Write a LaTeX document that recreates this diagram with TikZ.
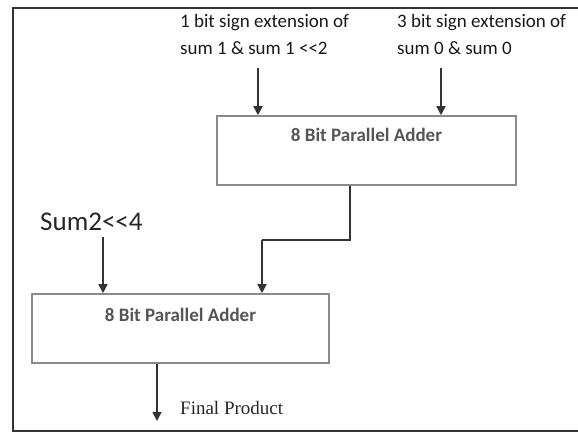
\documentclass[tikz,border=0pt]{standalone}
\usepackage{fontspec}
\setmainfont{Carlito}
\newfontfamily\serifface{Liberation Serif}
\usetikzlibrary{arrows.meta}
\definecolor{boxgray}{HTML}{8A8A8A}
\definecolor{arrgray}{HTML}{333333}
\definecolor{txtgray}{HTML}{555555}
\newcommand{\shl}{<\kern0pt<}
\begin{document}
\begin{tikzpicture}[x=1pt,y=-1pt,
  adder/.style={draw=boxgray,line width=1.6pt,rectangle,inner sep=0pt,
     font=\fontsize{19}{22}\selectfont\bfseries,text=txtgray},
  arr/.style={draw=arrgray,line width=1.6pt,-{Triangle[width=9pt,length=9pt]}},
  wire/.style={draw=arrgray,line width=1.6pt},
  toplbl/.style={anchor=base west,inner sep=0pt,align=left,
     font=\fontsize{19}{27}\selectfont,text=black!90}]
\useasboundingbox (0,0) rectangle (578,432);
% outer frame
\draw[draw=arrgray,line width=2pt] (580,8) -- (13,8) -- (13,431) -- (580,431);
% adders
\node[adder,minimum width=299pt,minimum height=69pt,text height=25pt,text depth=44pt]
  (a1) at (366.5,150.5) {8 Bit Parallel Adder};
\node[adder,minimum width=297pt,minimum height=69pt,text height=27pt,text depth=42pt]
  (a2) at (180.5,328.5) {8 Bit Parallel Adder};
% labels
\node[toplbl] (l1) at (180,54) {1 bit sign extension of\\sum 1 \& sum 1 \shl2};
\node[toplbl] (l2) at (397,54) {3 bit sign extension of\\sum 0 \& sum 0};
\node[anchor=base west,inner sep=0pt,font=\fontsize{27}{30}\selectfont,text=black!85]
  (s2) at (40,230) {Sum2\shl4};
\node[anchor=base west,inner sep=0pt,font=\serifface\fontsize{19}{22}\selectfont,text=black!85]
  (fp) at (180,414) {Final Product};
% free ends
\coordinate (i1) at (258,68);
\coordinate (i2) at (441,68);
\coordinate (i3) at (103,237);
\coordinate (o1) at (157,421);
\coordinate (c1) at (350,240);
\coordinate (c2) at (262,240);
% connectors
\draw[arr] (i1) -- (i1 |- a1.north);
\draw[arr] (i2) -- (i2 |- a1.north);
\draw[arr] (i3) -- (i3 |- a2.north);
\draw[wire] (c1 |- a1.south) -- (c1) -- (c2);
\draw[arr] (c2) -- (c2 |- a2.north);
\draw[arr] (o1 |- a2.south) -- (o1);
\end{tikzpicture}
\end{document}
